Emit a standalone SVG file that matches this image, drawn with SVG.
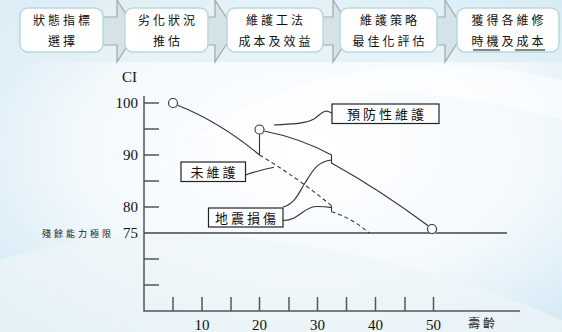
<svg xmlns="http://www.w3.org/2000/svg" width="562" height="332" viewBox="0 0 562 332">
<defs>
<radialGradient id="bg" cx="0.55" cy="0.45" r="0.75">
<stop offset="0" stop-color="#ffffff"/>
<stop offset="0.55" stop-color="#f3f9fc"/>
<stop offset="1" stop-color="#cde6f4"/>
</radialGradient>
<linearGradient id="top" x1="0" y1="0" x2="1" y2="0">
<stop offset="0" stop-color="#e2eff6"/>
<stop offset="1" stop-color="#d6ebf5"/>
</linearGradient>
</defs>
<style>
.box{fill:#ffffff;stroke:#b9d7de;stroke-width:1.5}
.arr{fill:#d3e3e8;stroke:#9fa9ac;stroke-width:1.2}
.bt{font-family:"Noto Sans CJK TC","Noto Sans CJK SC",sans-serif;font-size:12px;letter-spacing:3px;fill:#111;text-anchor:middle}
.ln{fill:none;stroke:#333;stroke-width:1.1}
.dash{fill:none;stroke:#333;stroke-width:1.1;stroke-dasharray:4 3}
.ax{fill:none;stroke:#555;stroke-width:1.5}
.num{font-family:"Liberation Serif",serif;font-size:15px;fill:#111}
.lbl{fill:#fff;stroke:#222;stroke-width:1.2}
.lt{font-family:"Noto Sans CJK TC","Noto Sans CJK SC",sans-serif;font-size:13px;letter-spacing:3px;fill:#111;text-anchor:middle}
.pt{fill:#fff;stroke:#333;stroke-width:1.1}
</style>
<rect x="0" y="0" width="562" height="332" fill="url(#bg)"/>
<path d="M0,260 Q150,215 330,250 Q460,275 562,320 L562,332 L0,332 Z" fill="#eef5f8" opacity="0.7"/>
<path d="M120,200 Q280,40 562,120 L562,80 Q300,20 120,200 Z" fill="#ffffff" opacity="0.5"/>
<rect x="0" y="0" width="562" height="62" fill="url(#top)" opacity="0.6"/>

<g id="connectors">
<path class="arr" d="M98,17 L117,17 L117,0 L137,31 L117,62 L117,45 L98,45 Z"/>
<path class="arr" d="M203,17 L215,17 L215,0 L235,31 L215,62 L215,45 L203,45 Z"/>
<path class="arr" d="M318,17 L333,17 L333,0 L353,31 L333,62 L333,45 L318,45 Z"/>
<path class="arr" d="M432,17 L445,17 L445,0 L465,31 L445,62 L445,45 L432,45 Z"/>
</g>

<g id="step1"><rect class="box" x="20" y="8" width="83" height="44" rx="8"/>
<text class="bt" x="63" y="25">狀態指標</text><text class="bt" x="63" y="46">選擇</text></g>
<g id="step2"><rect class="box" x="125" y="8" width="83" height="44" rx="8"/>
<text class="bt" x="168" y="25">劣化狀況</text><text class="bt" x="168" y="46">推估</text></g>
<g id="step3"><rect class="box" x="227" y="8" width="96" height="44" rx="8"/>
<text class="bt" x="276" y="25">維護工法</text><text class="bt" x="276" y="46">成本及效益</text></g>
<g id="step4"><rect class="box" x="340" y="8" width="97" height="44" rx="8"/>
<text class="bt" x="390" y="25">維護策略</text><text class="bt" x="390" y="46">最佳化評估</text></g>
<g id="step5"><rect class="box" x="457" y="8" width="102" height="44" rx="8"/>
<text class="bt" x="509" y="25">獲得各維修</text><text class="bt" x="509" y="46">時機及成本</text>
<path d="M473,50 L500,50 M515,50 L545,50" stroke="#111" stroke-width="1"/></g>

<g id="axes">
<path class="ax" d="M144,96 L144,311 L520,311"/>
<path class="ax" d="M144,103 H159 M144,129 H159 M144,155 H159 M144,181 H159 M144,207 H159 M144,259 H159 M144,285 H159"/>
<path class="ax" d="M173,311 V297 M202,311 V297 M231,311 V297 M259.5,311 V297 M289,311 V297 M317.5,311 V297 M346.5,311 V297 M375.5,311 V297 M405,311 V297 M433.5,311 V297"/>
<path d="M144,233 H507" stroke="#444" stroke-width="1.3"/>
<text class="num" x="122" y="82">CI</text>
<text class="num" x="138" y="108" text-anchor="end">100</text>
<text class="num" x="138" y="160" text-anchor="end">90</text>
<text class="num" x="138" y="212" text-anchor="end">80</text>
<text class="num" x="138" y="238" text-anchor="end">75</text>
<text x="42" y="237" font-family="Noto Sans CJK TC,Noto Sans CJK SC,sans-serif" font-size="9" letter-spacing="3" fill="#222">殘餘能力極限</text>
<text class="num" x="202" y="330" text-anchor="middle">10</text>
<text class="num" x="259.5" y="330" text-anchor="middle">20</text>
<text class="num" x="317.5" y="330" text-anchor="middle">30</text>
<text class="num" x="375.5" y="330" text-anchor="middle">40</text>
<text class="num" x="433.5" y="330" text-anchor="middle">50</text>
<text x="468" y="328" font-family="Noto Sans CJK TC,Noto Sans CJK SC,sans-serif" font-size="12" letter-spacing="3" fill="#222">壽齡</text>
</g>

<g id="curves">
<path class="ln" d="M177,105 Q220,122 259.5,155"/>
<path class="ln" d="M259.5,155 V134"/>
<path class="ln" d="M264,131 Q300,138 331.5,155 V163 Q380,190 428.5,226"/>
<path class="dash" d="M259.5,155 Q298,178 331.5,205.7"/>
<path class="ln" d="M331.5,205.7 V211.7"/>
<path class="dash" d="M331.5,211.7 Q352,218 369,233"/>
</g>

<g id="pt1"><circle cx="174" cy="104" r="4.5" fill="#ccc" opacity="0.6"/><circle class="pt" cx="173" cy="103" r="4.5"/></g>
<g id="pt2"><circle cx="260.5" cy="130.5" r="4.5" fill="#ccc" opacity="0.6"/><circle class="pt" cx="259.5" cy="129.5" r="4.5"/></g>
<g id="pt3"><circle cx="433" cy="230" r="4.5" fill="#ccc" opacity="0.6"/><circle class="pt" cx="432" cy="229" r="4.5"/></g>

<g id="leaders">
<path class="ln" d="M274,125 C290,124 305,124 314,119 C320,115 322,111 327,111 L332,113"/>
<path class="ln" d="M245.5,175 Q260,170 274,167.3"/>
<path class="ln" d="M283,207 C296,203 299,192 305,183 C312,172 316,162 331.5,160"/>
<path class="ln" d="M283,220.5 C300,220 303,207 316,206.5 C324,206.3 328,207 331.5,207.5"/>
</g>

<g id="lbl-prevent"><rect class="lbl" x="332" y="104" width="107" height="19.5"/>
<text class="lt" x="387" y="119">預防性維護</text></g>
<g id="lbl-none"><rect class="lbl" x="181" y="162" width="64.5" height="19.5"/>
<text class="lt" x="214.5" y="177" font-size="14">未維護</text></g>
<g id="lbl-quake"><rect class="lbl" x="208.5" y="208" width="74.5" height="19"/>
<text class="lt" x="247" y="223" font-size="14">地震損傷</text></g>
</svg>
